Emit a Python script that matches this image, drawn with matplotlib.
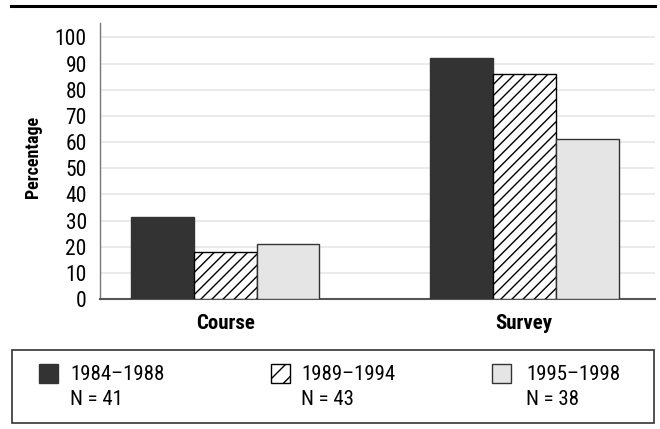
import matplotlib
matplotlib.use('Agg')
import matplotlib.pyplot as plt
from matplotlib.patches import Rectangle
from matplotlib.lines import Line2D

# data
categories = ['Course', 'Survey']
periods = ['1984\u20131988', '1989\u20131994', '1995\u20131998']
sample_sizes = [41, 43, 38]
pct_1984 = [31.5, 92]
pct_1989 = [18, 86]
pct_1995 = [21, 61]

plt.rcParams['font.family'] = ['Roboto Condensed', 'DejaVu Sans']
plt.rcParams['hatch.linewidth'] = 1.0

fig = plt.figure(figsize=(6.6, 4.29), dpi=100)
W, H = 660, 429
ax = fig.add_axes([100 / W, 1 - 299 / H, 555 / W, 276 / H])

bw = 0.21
x = range(len(categories))
ax.bar([i - bw for i in x], pct_1984, bw, color='#333333', edgecolor='#333333', lw=1, zorder=3)
ax.bar(list(x), pct_1989, bw, color='white', edgecolor='black', hatch='///', lw=1, zorder=3)
ax.bar([i + bw for i in x], pct_1995, bw, color='#e5e5e5', edgecolor='#333333', lw=1, zorder=3)

ax.set_xlim(-0.4186, 1.437)
ax.set_ylim(0, 105.5)
ax.set_yticks(range(0, 101, 10))
ax.set_xticks(list(x))
ax.set_xticklabels(categories, fontweight='bold', fontsize=15)
ax.tick_params(axis='y', length=0, pad=9.5, labelsize=15.5)
ax.tick_params(axis='x', length=0, pad=11)
ax.grid(axis='y', color='#e6e6e6', lw=1.2, zorder=0)
ax.set_axisbelow(True)
for s in ['top', 'right']:
    ax.spines[s].set_visible(False)
ax.spines['left'].set_color('#777777')
ax.spines['left'].set_linewidth(1)
ax.spines['bottom'].set_color('#555555')
ax.spines['bottom'].set_linewidth(1.5)
ax.set_ylabel('Percentage', fontweight='bold', fontsize=13)
ax.yaxis.set_label_coords(-0.105, 0.514)

# top rule
fig.add_artist(Line2D([11 / W, 655 / W], [1 - 5.5 / H, 1 - 5.5 / H], color='black', lw=2.2))

# legend box drawn in pixel space
lg = fig.add_axes([0, 0, 1, 1], zorder=-1)
lg.set_xlim(0, W)
lg.set_ylim(H, 0)
lg.axis('off')
lg.add_patch(Rectangle((12, 350), 642, 73, fill=False, edgecolor='#333333', lw=1.2))
sq_x = [39, 271, 492]
txt_x = [70, 301, 526]
styles = [dict(facecolor='#333333', edgecolor='#333333'),
          dict(facecolor='white', edgecolor='black', hatch='//'),
          dict(facecolor='#e5e5e5', edgecolor='#333333')]
for i in range(3):
    lg.add_patch(Rectangle((sq_x[i], 364), 19, 19, lw=1, **styles[i]))
    lg.text(txt_x[i], 380, periods[i], fontsize=15, va='baseline')
    lg.text(txt_x[i], 405, f'N = {sample_sizes[i]}', fontsize=15, va='baseline')

fig.savefig('out.png', dpi=100)
